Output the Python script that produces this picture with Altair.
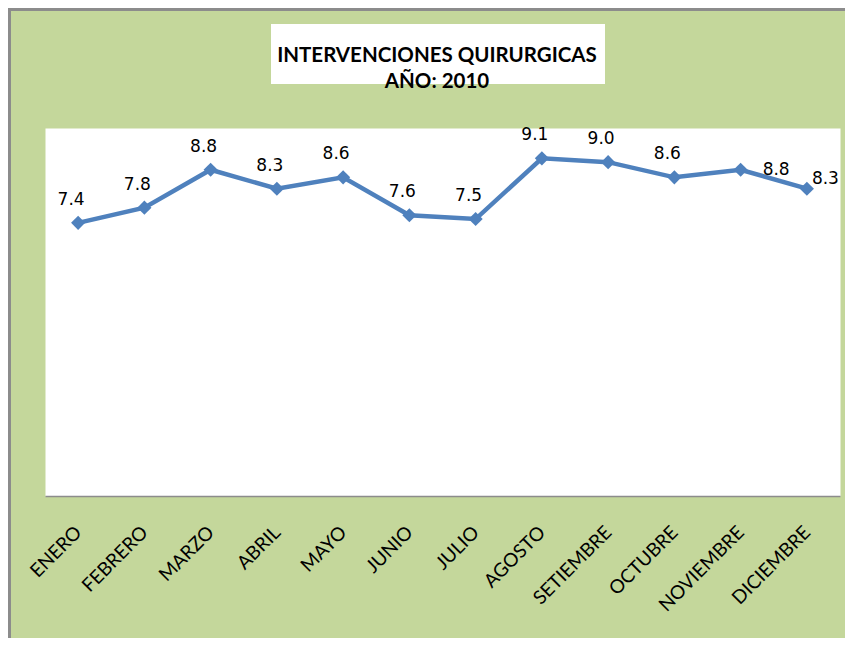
import altair as alt
import pandas as pd

months = ["ENERO", "FEBRERO", "MARZO", "ABRIL", "MAYO", "JUNIO", "JULIO",
          "AGOSTO", "SETIEMBRE", "OCTUBRE", "NOVIEMBRE", "DICIEMBRE"]
values = [7.4, 7.8, 8.8, 8.3, 8.6, 7.6, 7.5, 9.1, 9.0, 8.6, 8.8, 8.3]
title_lines = ["INTERVENCIONES QUIRURGICAS", "AÑO: 2010"]

df = pd.DataFrame({"mes": months, "valor": values})
df["etiqueta"] = [f"{v:.1f}" for v in values]
title_df = pd.DataFrame({"t": ["\n".join(title_lines)]})
one = pd.DataFrame({"k": [0]})

W, H = 795, 368
BLUE = "#4F81BD"

x = alt.X("mes:N", sort=months,
          scale=alt.Scale(type="point", padding=0.5),
          axis=alt.Axis(title=None, labelAngle=315, labelAlign="right",
                        labelBaseline="middle", labelPadding=33, ticks=False,
                        grid=False, domainColor="#8C8C8C", domainWidth=1.5,
                        labelFont="Lato", labelFontSize=19, labelColor="black"))
y = alt.Y("valor:Q", scale=alt.Scale(domain=[0.2, 9.9]), axis=None)

base = alt.Chart(df).encode(x=x, y=y)

line = base.mark_line(color=BLUE, strokeWidth=4.5)
pts = base.mark_point(shape="diamond", filled=True, color=BLUE, size=200, opacity=1)

lab_main = base.transform_filter(
    alt.FieldOneOfPredicate(field="mes", oneOf=months[:10])
).mark_text(font="DejaVu Sans", fontSize=17, color="black",
            dx=-7, dy=-23, align="center", baseline="middle").encode(text="etiqueta:N")
lab_nov = base.transform_filter(alt.datum.mes == "NOVIEMBRE").mark_text(
    font="DejaVu Sans", fontSize=17, color="black",
    dx=22, dy=0, align="left", baseline="middle").encode(text="etiqueta:N")
lab_dic = base.transform_filter(alt.datum.mes == "DICIEMBRE").mark_text(
    font="DejaVu Sans", fontSize=17, color="black",
    dx=5, dy=-10, align="left", baseline="middle").encode(text="etiqueta:N")

# chart frame (gray top/left border) and title box
frame_top = alt.Chart(one).mark_rect(color="#8C8C8C").encode(
    x=alt.value(-37), x2=alt.value(800), y=alt.value(-120), y2=alt.value(-117))
frame_left = alt.Chart(one).mark_rect(color="#8C8C8C").encode(
    x=alt.value(-37), x2=alt.value(-34), y=alt.value(-120), y2=alt.value(510))
title_box = alt.Chart(one).mark_rect(color="white").encode(
    x=alt.value(226), x2=alt.value(560), y=alt.value(-104), y2=alt.value(-44))
title_txt = alt.Chart(title_df).mark_text(
    font="Lato", fontSize=20.5, fontWeight="bold", color="black",
    align="center", baseline="middle", lineBreak="\n", lineHeight=26
).encode(text="t:N", x=alt.value(392), y=alt.value(-72))

chart = alt.layer(
    frame_top, frame_left, title_box, title_txt,
    line, pts, lab_main, lab_nov, lab_dic
).properties(
    width=W, height=H,
    autosize=alt.AutoSizeParams(type="none"),
    padding={"left": 37, "top": 120, "right": 5, "bottom": 142},
    background="#C4D79B",
).configure_view(fill="white", stroke="transparent")

chart.save("out.html", embed_options={"renderer": "svg", "actions": False})
